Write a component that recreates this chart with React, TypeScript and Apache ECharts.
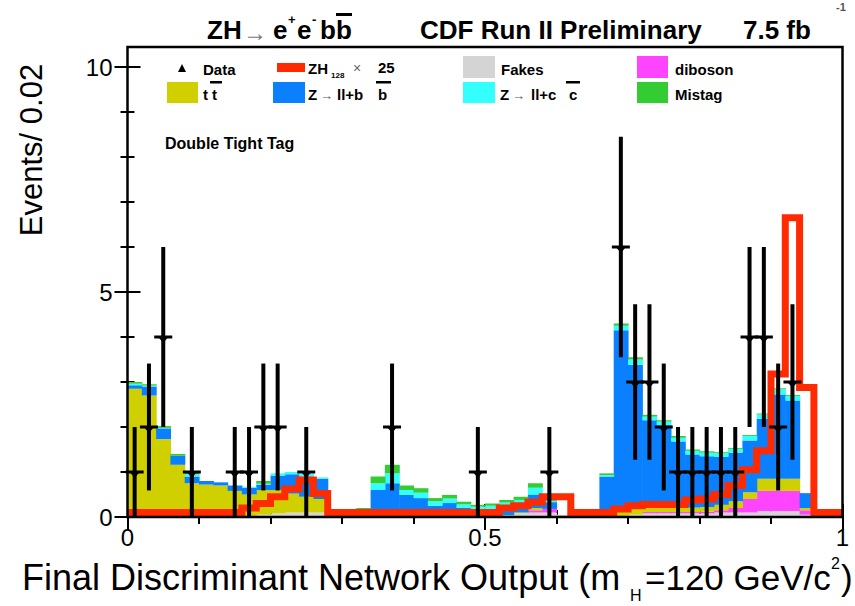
import React, { useEffect, useRef } from "react";
import * as echarts from "echarts";

const BIN_WIDTH = 0.02;
const N_BINS = 50;
const binLow: number[] = Array.from({ length: N_BINS }, (_, i) => Math.round(i * BIN_WIDTH * 100) / 100);

// Background components, stacked bottom -> top (events per bin)
const fakes = [
  0, 0, 0, 0, 0, 0, 0, 0, 0, 0.05,
  0.08, 0.1, 0.1, 0.1, 0, 0, 0, 0, 0, 0,
  0, 0, 0, 0, 0, 0, 0.03, 0.08, 0.1, 0.1,
  0.05, 0, 0, 0, 0.02, 0.05, 0.08, 0.08, 0.08, 0.08,
  0.08, 0.1, 0.1, 0.1, 0.13, 0.13, 0.13, 0.05, 0, 0,
];
const diboson = [
  0, 0, 0, 0, 0, 0, 0, 0, 0, 0,
  0, 0, 0, 0, 0, 0, 0, 0, 0, 0,
  0, 0, 0, 0, 0, 0, 0, 0, 0.05, 0.08,
  0, 0, 0, 0, 0, 0, 0.03, 0.03, 0.03, 0.03,
  0.04, 0.05, 0.1, 0.3, 0.45, 0.45, 0.45, 0.1, 0, 0,
];
const ttbar = [
  2.85, 2.7, 1.73, 1.16, 0.75, 0.72, 0.7, 0.58, 0.5, 0.55,
  0.52, 0.42, 0.35, 0.3, 0, 0, 0, 0, 0, 0,
  0, 0, 0, 0, 0, 0, 0.01, 0.02, 0.05, 0,
  0, 0, 0, 0.05, 0.12, 0.15, 0.18, 0.18, 0.15, 0.1,
  0.1, 0.12, 0.15, 0.15, 0.27, 0.27, 0.27, 0.05, 0, 0,
];
const zbb = [
  0.08, 0.2, 0.24, 0.2, 0.15, 0.08, 0.07, 0.12, 0.15, 0.12,
  0.32, 0.43, 0.45, 0.45, 0, 0, 0.13, 0.6, 0.75, 0.49,
  0.42, 0.25, 0.31, 0.2, 0.18, 0.18, 0.2, 0.18, 0.3, 0.15,
  0, 0, 0, 0.85, 4.01, 3.18, 1.86, 1.75, 1.42, 1.18,
  1.13, 1.07, 1.08, 1.15, 1.33, 1.87, 1.74, 0.33, 0, 0,
];
const zcc = [
  0.03, 0.02, 0.01, 0, 0.05, 0, 0, 0, 0.02, 0.02,
  0.05, 0.05, 0.06, 0.03, 0, 0, 0.02, 0.15, 0.22, 0.11,
  0.12, 0.1, 0.1, 0.08, 0.05, 0.07, 0.08, 0.1, 0.15, 0.03,
  0, 0, 0, 0.03, 0.1, 0.12, 0.08, 0.08, 0.08, 0.08,
  0.08, 0.08, 0.08, 0.1, 0.1, 0.12, 0.1, 0, 0, 0,
];
const mistag = [
  0.04, 0.03, 0.04, 0.04, 0.03, 0, 0, 0, 0, 0.06,
  0, 0, 0, 0, 0, 0, 0.05, 0.15, 0.19, 0.1,
  0.1, 0.07, 0.08, 0.06, 0.04, 0.05, 0.06, 0.07, 0.1, 0.02,
  0, 0, 0, 0.04, 0.05, 0.05, 0.04, 0.03, 0.04, 0.03,
  0.03, 0.02, 0.02, 0.02, 0.02, 0.02, 0.02, 0, 0, 0,
];
// ZH (m_H = 120) signal x 25
const signal = [
  0.1, 0.1, 0.1, 0.1, 0.1, 0.1, 0.1, 0.1, 0.2, 0.3,
  0.45, 0.62, 0.82, 0.52, 0.1, 0.1, 0.1, 0.1, 0.1, 0.1,
  0.1, 0.1, 0.1, 0.1, 0.1, 0.1, 0.2, 0.25, 0.33, 0.45,
  0.45, 0.1, 0.1, 0.1, 0.18, 0.25, 0.28, 0.28, 0.28, 0.38,
  0.4, 0.5, 0.7, 1.05, 1.47, 3.18, 6.65, 2.88, 0.1, 0.1,
];
// Observed data and its uncertainty
const dataCounts = [
  1, 2, 4, 0, 1, 0, 0, 1, 1, 2,
  2, 0, 1, 0, 0, 0, 0, 0, 2, 0,
  0, 0, 0, 0, 1, 0, 0, 0, 0, 1,
  0, 0, 0, 0, 6, 3, 3, 2, 1, 1,
  1, 1, 1, 4, 4, 2, 3, 0, 0, 0,
];
const dataErr = [
  1, 1.41, 2, 0, 1, 0, 0, 1, 1, 1.41,
  1.41, 0, 1, 0, 0, 0, 0, 0, 1.41, 0,
  0, 0, 0, 0, 1, 0, 0, 0, 0, 1,
  0, 0, 0, 0, 2.45, 1.73, 1.73, 1.41, 1, 1,
  1, 1, 1, 2, 2, 1.41, 1.73, 0, 0, 0,
];

const xTicks = [0, 0.5, 1];
const yTicks = [0, 5, 10];

const C = {
  fakes: "#d4d4d4",
  diboson: "#ff44ff",
  ttbar: "#d0d000",
  zbb: "#0a80ff",
  zcc: "#33ffff",
  mistag: "#33cc33",
  signal: "#ff2a00",
};

const FONT = "'Liberation Sans', Arial, Helvetica, sans-serif";

function txt(text: string, x: number, y: number, size: number, opts: any = {}) {
  return {
    type: "text",
    x,
    y,
    z: 100,
    rotation: opts.rotation || 0,
    style: {
      text,
      font: `${opts.bold ? "bold " : ""}${size}px ${FONT}`,
      fill: opts.fill || "#000",
      textAlign: opts.align || "left",
      textVerticalAlign: opts.valign || "middle",
    },
  };
}
function box(x: number, y: number, w: number, h: number, fill: string) {
  return { type: "rect", z: 100, shape: { x, y, width: w, height: h }, style: { fill } };
}

export default function App() {
  const ref = useRef<HTMLDivElement>(null);
  useEffect(() => {
    document.body.style.margin = "0";
    const chart = echarts.init(ref.current!, null, { renderer: "svg" });

    const comps = [
      { name: "Fakes", values: fakes, color: C.fakes },
      { name: "diboson", values: diboson, color: C.diboson },
      { name: "ttbar", values: ttbar, color: C.ttbar },
      { name: "Zbb", values: zbb, color: C.zbb },
      { name: "Zcc", values: zcc, color: C.zcc },
      { name: "Mistag", values: mistag, color: C.mistag },
    ];
    const cum = new Array(N_BINS).fill(0);
    const stackSeries = comps.map((c) => {
      const rows = binLow
        .map((lo, i) => {
          const b = cum[i];
          const t = b + c.values[i];
          cum[i] = t;
          return [lo, lo + BIN_WIDTH, b, t];
        })
        .filter((r) => r[3] > r[2]);
      return {
        type: "custom",
        name: c.name,
        silent: true,
        z: 2,
        data: rows,
        encode: { x: [0, 1], y: [2, 3] },
        renderItem: (params: any, api: any) => {
          const p0 = api.coord([api.value(0), api.value(3)]);
          const p1 = api.coord([api.value(1), api.value(2)]);
          return {
            type: "rect",
            shape: { x: p0[0], y: p0[1], width: p1[0] - p0[0] + 0.6, height: p1[1] - p0[1] },
            style: { fill: c.color },
          };
        },
      };
    });

    const sigData = binLow.map((lo, i) => [lo, signal[i]]);
    sigData.push([1, signal[N_BINS - 1]]);

    const dataRows = binLow
      .map((lo, i) => [lo + BIN_WIDTH / 2, dataCounts[i], dataErr[i]])
      .filter((r) => r[1] > 0);

    const axisCommon = {
      axisLine: { show: false },
      splitLine: { show: false },
      axisTick: { inside: true, length: 13, lineStyle: { color: "#000", width: 2 } },
      minorTick: { show: true, splitNumber: 5, length: 7, lineStyle: { color: "#000", width: 2 } },
    };

    const graphic: any[] = [
      // frame
      {
        type: "rect",
        z: 90,
        shape: { x: 127.5, y: 47, width: 715, height: 470 },
        style: { fill: "none", stroke: "#000", lineWidth: 2.5 },
      },
      // title
      txt("ZH", 207, 30, 26, { bold: true }),
      txt("\u2192", 243, 32, 24, { fill: "#777" }),
      txt("e", 273, 30, 26, { bold: true }),
      txt("+", 288, 19, 13, { bold: true }),
      txt("e", 297, 30, 26, { bold: true }),
      txt("-", 312, 19, 13, { bold: true }),
      txt("bb", 320, 30, 26, { bold: true }),
      box(336, 13, 16, 3, "#000"),
      txt("CDF Run II Preliminary", 420, 30, 26, { bold: true }),
      txt("7.5 fb", 743, 30, 26, { bold: true }),
      txt("-1", 836, 7, 11, { bold: true, fill: "#555" }),
      // legend row 1
      { type: "polygon", z: 100, shape: { points: [[178, 72], [186, 72], [182, 64]] }, style: { fill: "#000" } },
      txt("Data", 203, 69, 15, { bold: true }),
      box(277, 63, 28, 9, C.signal),
      txt("ZH", 308, 68, 15, { bold: true }),
      txt("128", 331, 75, 8, { bold: true }),
      txt("\u00d7", 353, 68, 14, { fill: "#666" }),
      txt("25", 378, 67, 15, { bold: true }),
      box(463, 56, 32, 22, C.fakes),
      txt("Fakes", 501, 69, 15, { bold: true }),
      box(637, 56, 31, 22, C.diboson),
      txt("diboson", 675, 69, 15, { bold: true }),
      // legend row 2
      box(167, 82, 31, 21, C.ttbar),
      txt("t", 203, 94, 15, { bold: true }),
      txt("t", 212, 94, 15, { bold: true }),
      box(210, 81, 12, 2.5, "#000"),
      box(273, 82, 32, 21, C.zbb),
      txt("Z", 308, 94, 15, { bold: true }),
      txt("\u2192", 320, 95, 13, { fill: "#555" }),
      txt("ll+b", 337, 94, 15, { bold: true }),
      txt("b", 378, 94, 15, { bold: true }),
      box(376, 81, 15, 2.5, "#000"),
      box(463, 82, 32, 21, C.zcc),
      txt("Z", 500, 94, 15, { bold: true }),
      txt("\u2192", 512, 95, 13, { fill: "#555" }),
      txt("ll+c", 531, 94, 15, { bold: true }),
      txt("c", 569, 94, 15, { bold: true }),
      box(566, 81, 14, 2.5, "#000"),
      box(637, 82, 31, 21, C.mistag),
      txt("Mistag", 675, 94, 15, { bold: true }),
      // annotation
      txt("Double Tight Tag", 165, 143, 16, { bold: true }),
      // axis titles
      txt("Events/ 0.02", 31, 150, 31, { rotation: Math.PI / 2, align: "center" }),
      txt("Final Discriminant Network Output (m", 22, 577, 36),
      txt("H", 630, 595, 16),
      txt("=120 GeV/c", 645, 577, 35),
      txt("2", 831, 563, 16),
      txt(")", 841, 577, 35),
    ];

    chart.setOption({
      animation: false,
      textStyle: { fontFamily: FONT },
      grid: { left: 127.5, right: 12.5, top: 67, bottom: 89 },
      xAxis: [
        {
          type: "value",
          position: "bottom",
          min: xTicks[0],
          max: xTicks[xTicks.length - 1],
          interval: xTicks[1] - xTicks[0],
          ...axisCommon,
          axisLabel: { fontSize: 24, color: "#000", margin: 8, fontFamily: FONT },
        },
        {
          type: "value",
          position: "top",
          offset: 20,
          min: xTicks[0],
          max: xTicks[xTicks.length - 1],
          interval: xTicks[1] - xTicks[0],
          ...axisCommon,
          axisLabel: { show: false },
        },
      ],
      yAxis: [
        {
          type: "value",
          position: "left",
          min: yTicks[0],
          max: yTicks[yTicks.length - 1],
          interval: yTicks[1] - yTicks[0],
          ...axisCommon,
          axisLabel: { fontSize: 24, color: "#000", margin: 15, fontFamily: FONT },
        },
        {
          type: "value",
          position: "right",
          min: yTicks[0],
          max: yTicks[yTicks.length - 1],
          interval: yTicks[1] - yTicks[0],
          ...axisCommon,
          axisLabel: { show: false },
        },
      ],
      series: [
        ...stackSeries,
        {
          type: "line",
          name: "ZH x25",
          data: sigData,
          step: "end",
          symbol: "none",
          z: 5,
          silent: true,
          lineStyle: { color: C.signal, width: 7, join: "miter", cap: "butt" },
        },
        {
          type: "custom",
          name: "Data",
          silent: true,
          z: 8,
          data: dataRows,
          encode: { x: 0, y: 1 },
          renderItem: (params: any, api: any) => {
            const x = api.value(0);
            const n = api.value(1);
            const e = api.value(2);
            const c = api.coord([x, n]);
            const hi = api.coord([x, n + e]);
            const lo = api.coord([x, Math.max(0, n - e)]);
            return {
              type: "group",
              children: [
                { type: "line", shape: { x1: c[0], y1: hi[1], x2: c[0], y2: lo[1] }, style: { stroke: "#000", lineWidth: 4 } },
                { type: "line", shape: { x1: c[0] - 9, y1: c[1], x2: c[0] + 9, y2: c[1] }, style: { stroke: "#000", lineWidth: 3 } },
                {
                  type: "polygon",
                  shape: { points: [[c[0] - 5, c[1]], [c[0] + 5, c[1]], [c[0], c[1] + 6]] },
                  style: { fill: "#000" },
                },
              ],
            };
          },
        },
      ],
      graphic,
    });
    return () => chart.dispose();
  }, []);
  return <div ref={ref} style={{ width: 855, height: 606 }} />;
}
